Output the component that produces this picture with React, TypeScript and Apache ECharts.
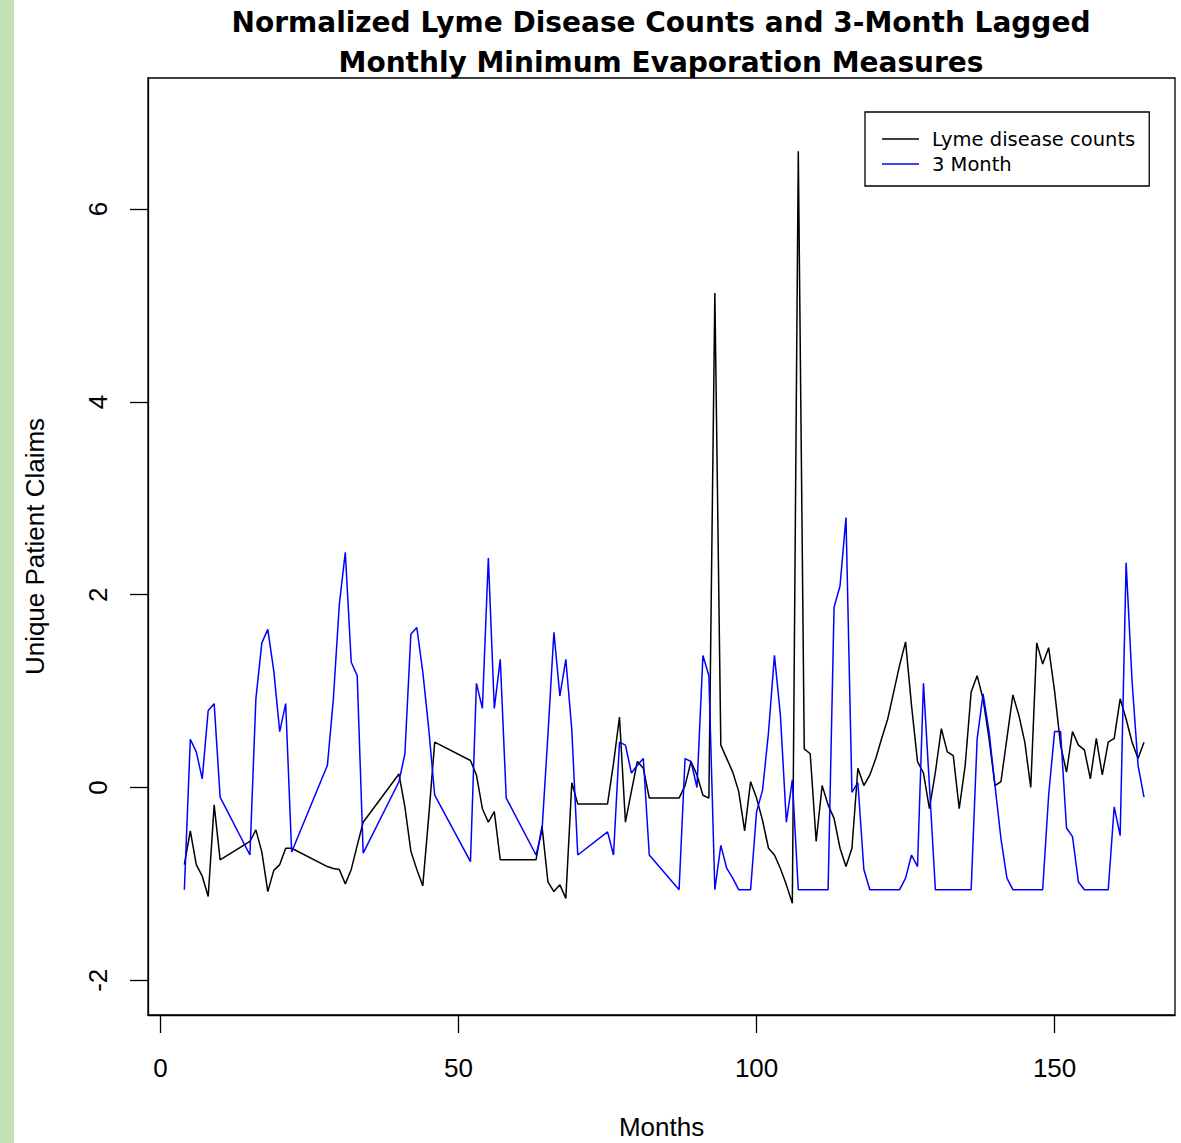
import React, { useEffect, useRef } from "react";
import * as echarts from "echarts";

const months = [
  4, 5, 6, 7, 8, 9, 10,
  15, 16, 17, 18, 19, 20, 21, 22,
  28, 29, 30, 31, 32, 33, 34,
  40, 41, 42, 43, 44, 45, 46,
  52, 53, 54, 55, 56, 57, 58,
  63, 64, 65, 66, 67, 68, 69, 70,
  75, 76, 77, 78, 79, 80, 81, 82,
  87, 88, 89, 90, 91, 92, 93, 94, 95, 96, 97, 98, 99, 100,
  101, 102, 103, 104, 105, 106, 107, 108, 109, 110,
  111, 112, 113, 114, 115, 116, 117, 118, 119, 120,
  121, 122, 123, 124, 125, 126, 127, 128, 129, 130,
  131, 132, 133, 134, 135, 136, 137, 138, 139, 140,
  141, 142, 143, 144, 145, 146, 147, 148, 149, 150,
  151, 152, 153, 154, 155, 156, 157, 158, 159, 160,
  161, 162, 163, 164, 165,
];

const lymeCounts = [
  -0.8, -0.45, -0.8, -0.92, -1.13, -0.18, -0.75,
  -0.56, -0.44, -0.67, -1.08, -0.86, -0.8, -0.63, -0.63,
  -0.82, -0.84, -0.85, -1.0, -0.85, -0.6, -0.36,
  0.14, -0.2, -0.66, -0.85, -1.02, -0.3, 0.47,
  0.28, 0.13, -0.22, -0.36, -0.25, -0.75, -0.75,
  -0.75, -0.4, -0.98, -1.08, -1.01, -1.15, 0.05, -0.17,
  -0.17, 0.25, 0.73, -0.36, -0.04, 0.27, 0.2, -0.11,
  -0.11, 0.02, 0.27, 0.13, -0.08, -0.11, 5.13, 0.44, 0.3, 0.16, -0.04, -0.45, 0.06, -0.11,
  -0.34, -0.63, -0.7, -0.84, -1.01, -1.2, 6.6, 0.4, 0.35, -0.56,
  0.02, -0.18, -0.32, -0.63, -0.82, -0.63, 0.2, 0.02, 0.13, 0.3,
  0.51, 0.71, 0.99, 1.27, 1.51, 0.85, 0.27, 0.15, -0.22, 0.16,
  0.61, 0.37, 0.33, -0.22, 0.23, 0.99, 1.16, 0.92, 0.51, 0.02,
  0.06, 0.51, 0.96, 0.75, 0.47, 0.0, 1.5, 1.28, 1.45, 1.0,
  0.44, 0.16, 0.58, 0.44, 0.39, 0.09, 0.51, 0.13, 0.47, 0.51,
  0.92, 0.71, 0.47, 0.3, 0.47,
];

const evapLag3 = [
  -1.06, 0.5, 0.37, 0.09, 0.8, 0.87, -0.1,
  -0.7, 0.92, 1.5, 1.64, 1.21, 0.58, 0.87, -0.67,
  0.23, 0.92, 1.9, 2.44, 1.3, 1.16, -0.68,
  0.06, 0.35, 1.59, 1.66, 1.2, 0.61, -0.08,
  -0.77, 1.08, 0.82, 2.38, 0.82, 1.33, -0.11,
  -0.7, -0.45, 0.55, 1.61, 0.95, 1.33, 0.6, -0.7,
  -0.46, -0.7, 0.47, 0.44, 0.15, 0.23, 0.3, -0.7,
  -1.06, 0.3, 0.27, 0.0, 1.37, 1.16, -1.06, -0.6, -0.84, -0.94, -1.06, -1.06, -1.06, -0.25,
  -0.03, 0.57, 1.37, 0.75, -0.36, 0.08, -1.06, -1.06, -1.06, -1.06,
  -1.06, -1.06, 1.87, 2.09, 2.8, -0.05, 0.05, -0.85, -1.06, -1.06,
  -1.06, -1.06, -1.06, -1.06, -0.94, -0.7, -0.82, 1.08, 0.02, -1.06,
  -1.06, -1.06, -1.06, -1.06, -1.06, -1.06, 0.5, 0.97, 0.58, 0.02,
  -0.53, -0.94, -1.06, -1.06, -1.06, -1.06, -1.06, -1.06, -0.08, 0.58,
  0.58, -0.42, -0.51, -0.98, -1.06, -1.06, -1.06, -1.06, -1.06, -0.2,
  -0.5, 2.33, 1.1, 0.23, -0.1,
];

const xTicks = [0, 50, 100, 150];
const yTicks = [-2, 0, 2, 4, 6];

const titleText =
  "Normalized Lyme Disease Counts and 3-Month Lagged\nMonthly Minimum Evaporation Measures";
const seriesNames = ["Lyme disease counts", "3 Month"];

const FONT = "'Liberation Sans', Arial, sans-serif";
const WIDE_FONT = "'DejaVu Sans', Verdana, sans-serif";

export default function App() {
  const ref = useRef<HTMLDivElement>(null);

  useEffect(() => {
    if (!ref.current) return;
    const chart = echarts.init(ref.current, null, { renderer: "svg" });
    chart.setOption({
      animation: false,
      backgroundColor: "#ffffff",
      title: {
        text: titleText,
        left: 661,
        top: 2,
        padding: 0,
        textAlign: "center",
        textStyle: {
          fontFamily: WIDE_FONT,
          fontSize: 28,
          fontWeight: "bold",
          color: "#000",
          lineHeight: 40,
        },
      },
      legend: {
        orient: "vertical",
        left: 865,
        top: 112,
        padding: [17, 14, 12, 17],
        itemGap: 5,
        itemWidth: 37,
        itemHeight: 1.6,
        icon: "rect",
        borderColor: "#000",
        borderWidth: 1.3,
        borderRadius: 0,
        backgroundColor: "#fff",
        textStyle: {
          fontFamily: WIDE_FONT,
          fontSize: 19.5,
          color: "#000",
          padding: [0, 0, 0, 8],
        },
        data: seriesNames,
      },
      graphic: [
        {
          type: "rect",
          left: 0,
          top: 0,
          shape: { x: 0, y: 0, width: 14, height: 1143 },
          style: { fill: "#c5e0b4" },
        },
      ],
      grid: {
        left: 148,
        right: 6,
        top: 78,
        bottom: 128,
        show: true,
        borderColor: "#000",
        borderWidth: 1.3,
        backgroundColor: "#fff",
        containLabel: false,
        outerBoundsMode: "none",
      },
      xAxis: {
        type: "value",
        min: -2.1,
        max: 170.2,
        name: "Months",
        nameLocation: "middle",
        nameGap: 99,
        nameTextStyle: { fontFamily: FONT, fontSize: 26, color: "#000" },
        axisLine: { show: true, onZero: false, lineStyle: { color: "#000", width: 1.3 } },
        axisTick: {
          show: true,
          length: 18,
          customValues: xTicks,
          lineStyle: { color: "#000", width: 1.3 },
        },
        axisLabel: {
          customValues: xTicks,
          fontFamily: FONT,
          fontSize: 26,
          color: "#000",
          margin: 40,
        },
        splitLine: { show: false },
      },
      yAxis: {
        type: "value",
        min: -2.36,
        max: 7.36,
        name: "Unique Patient Claims",
        nameLocation: "middle",
        nameRotate: 90,
        nameGap: 100,
        nameTextStyle: { fontFamily: FONT, fontSize: 26, color: "#000" },
        axisLine: { show: true, onZero: false, lineStyle: { color: "#000", width: 1.3 } },
        axisTick: {
          show: true,
          length: 18,
          customValues: yTicks,
          lineStyle: { color: "#000", width: 1.3 },
        },
        axisLabel: {
          customValues: yTicks,
          rotate: 90,
          fontFamily: FONT,
          fontSize: 26,
          color: "#000",
          margin: 37,
        },
        splitLine: { show: false },
      },
      series: [
        {
          name: seriesNames[0],
          type: "line",
          symbol: "none",
          data: months.map((m, i) => [m, lymeCounts[i]]),
          lineStyle: { color: "#000000", width: 1.5 },
          itemStyle: { color: "#000000" },
        },
        {
          name: seriesNames[1],
          type: "line",
          symbol: "none",
          data: months.map((m, i) => [m, evapLag3[i]]),
          lineStyle: { color: "#0000ff", width: 1.5 },
          itemStyle: { color: "#0000ff" },
        },
      ],
    });
    return () => chart.dispose();
  }, []);

  return (
    <div
      ref={ref}
      style={{ position: "absolute", left: 0, top: 0, width: 1181, height: 1143, background: "#fff" }}
    />
  );
}
